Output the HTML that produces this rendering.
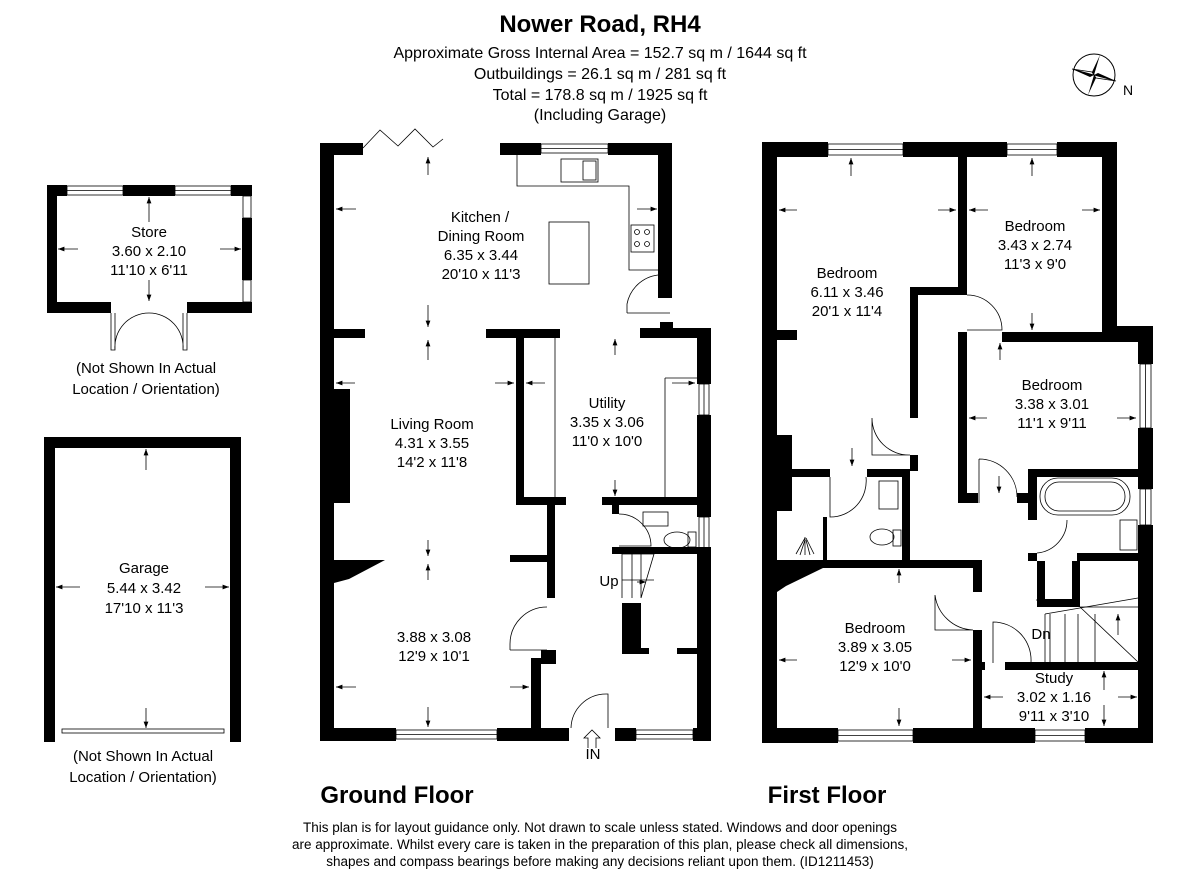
<!DOCTYPE html>
<html><head><meta charset="utf-8"><style>
html,body{margin:0;padding:0;background:#fff;}
svg{display:block;font-family:"Liberation Sans",Arial,sans-serif;}
</style></head><body>
<svg width="1200" height="881" viewBox="0 0 1200 881" xmlns="http://www.w3.org/2000/svg">
<defs>
<marker id="ah" markerWidth="8" markerHeight="6" refX="8" refY="3" orient="auto"><path d="M0,0 L8,3 L0,6 z" fill="#000"/></marker>
</defs>
<!-- Header -->
<g text-anchor="middle" fill="#000">
<text x="600" y="32" font-size="24" font-weight="bold">Nower Road, RH4</text>
<text x="600" y="58" font-size="16">Approximate Gross Internal Area = 152.7 sq m / 1644 sq ft</text>
<text x="600" y="79" font-size="16">Outbuildings = 26.1 sq m / 281 sq ft</text>
<text x="600" y="100" font-size="16">Total = 178.8 sq m / 1925 sq ft</text>
<text x="600" y="120" font-size="16">(Including Garage)</text>
</g>
<!-- Compass -->
<g transform="translate(1094,75)">
<circle r="21" fill="none" stroke="#000" stroke-width="1"/>
<path d="M0,0 L22,6 L4,-2 z" fill="#000"/>
<path d="M0,0 L-22,-6 L-4,2 z" fill="#000"/>
<path d="M0,0 L-6,20 L2,3 z" fill="#000"/>
<path d="M0,0 L6,-20 L-2,-3 z" fill="#000"/>
<path d="M0,0 L22,6 L2,3 z" fill="#fff" stroke="#000" stroke-width="0.8"/>
<path d="M0,0 L-22,-6 L-2,-3 z" fill="#fff" stroke="#000" stroke-width="0.8"/>
<text x="29" y="20" font-size="14">N</text>
</g>

<!-- STORE -->
<g fill="#000">
<rect x="47" y="185" width="10" height="128"/>
<rect x="47" y="185" width="20" height="11"/>
<rect x="123" y="185" width="52" height="11"/>
<rect x="231" y="185" width="21" height="11"/>
<rect x="242" y="218" width="10" height="62"/>
<rect x="47" y="302" width="64" height="11"/>
<rect x="187" y="302" width="65" height="11"/>
</g>
<g fill="none" stroke="#000" stroke-width="0.8">
<rect x="67" y="186" width="56" height="9"/><line x1="67" y1="190.5" x2="123" y2="190.5"/>
<rect x="175" y="186" width="56" height="9"/><line x1="175" y1="190.5" x2="231" y2="190.5"/>
<rect x="243" y="196" width="8" height="22"/><rect x="243" y="280" width="8" height="22"/>
<path d="M111,313 L111,350 L115,350 L115,313 M115,350 A34,34 0 0 1 149,313"/>
<path d="M187,313 L187,350 L183,350 L183,313 M183,350 A34,34 0 0 0 149,313"/>
</g>
<g stroke="#000" stroke-width="0.8" marker-end="url(#ah)">
<line x1="78" y1="249" x2="58" y2="249"/><line x1="220" y1="249" x2="241" y2="249"/>
<line x1="149" y1="222" x2="149" y2="197"/><line x1="149" y1="280" x2="149" y2="301"/>
</g>
<g text-anchor="middle" font-size="15">
<text x="149" y="237">Store</text><text x="149" y="256">3.60 x 2.10</text><text x="149" y="275">11'10 x 6'11</text>
<text x="146" y="373">(Not Shown In Actual</text><text x="146" y="394">Location / Orientation)</text>
</g>

<!-- GARAGE -->
<g fill="#000">
<rect x="44" y="437" width="197" height="11"/>
<rect x="44" y="437" width="11" height="305"/>
<rect x="230" y="437" width="11" height="305"/>
</g>
<g fill="none" stroke="#000" stroke-width="0.8"><rect x="62" y="729" width="162" height="4"/></g>
<g stroke="#000" stroke-width="0.8" marker-end="url(#ah)">
<line x1="80" y1="587" x2="56" y2="587"/><line x1="205" y1="587" x2="229" y2="587"/>
<line x1="146" y1="470" x2="146" y2="449"/><line x1="146" y1="708" x2="146" y2="728"/>
</g>
<g text-anchor="middle" font-size="15">
<text x="144" y="573">Garage</text><text x="144" y="593">5.44 x 3.42</text><text x="144" y="613">17'10 x 11'3</text>
<text x="143" y="761">(Not Shown In Actual</text><text x="143" y="782">Location / Orientation)</text>
</g>

<!-- GROUND FLOOR walls -->
<g fill="#000">
<rect x="320" y="143" width="14" height="598"/>
<rect x="320" y="143" width="43" height="12"/>
<rect x="500" y="143" width="41" height="12"/>
<rect x="608" y="143" width="64" height="12"/>
<rect x="658" y="143" width="14" height="155"/>
<rect x="660" y="322" width="13" height="15"/>
<rect x="640" y="328" width="71" height="10"/>
<rect x="697" y="328" width="14" height="56"/>
<rect x="697" y="415" width="14" height="102"/>
<rect x="697" y="548" width="14" height="193"/>
<rect x="320" y="728" width="76" height="13"/>
<rect x="497" y="728" width="72" height="13"/>
<rect x="615" y="728" width="21" height="13"/>
<rect x="693" y="728" width="18" height="13"/>
<rect x="334" y="329" width="31" height="9"/>
<rect x="486" y="329" width="74" height="9"/>
<rect x="516" y="338" width="8" height="167"/>
<rect x="516" y="497" width="50" height="8"/>
<rect x="602" y="497" width="109" height="8"/>
<rect x="612" y="505" width="7" height="9"/>
<rect x="612" y="547" width="99" height="7"/>
<rect x="547" y="505" width="8" height="93"/>
<rect x="510" y="555" width="45" height="7"/>
<rect x="541" y="650" width="15" height="14"/>
<rect x="531" y="658" width="10" height="83"/>
<rect x="334" y="389" width="16" height="114"/>
<path d="M320,560 L385,560 L349,579 L334,583 L334,610 L320,610 z"/>
<rect x="622" y="603" width="19" height="51"/>
<rect x="622" y="648" width="27" height="6"/>
<rect x="677" y="648" width="20" height="6"/>
</g>
<g fill="none" stroke="#000" stroke-width="0.8">
<!-- bifold -->
<path d="M363,148 L380,130 L398,146 L415,129 L433,147 L443,139"/>
<!-- windows -->
<rect x="541" y="144" width="67" height="9"/><line x1="541" y1="148.5" x2="608" y2="148.5"/>
<rect x="396" y="730" width="101" height="9"/><line x1="396" y1="734.5" x2="497" y2="734.5"/>
<rect x="636" y="730" width="57" height="9"/><line x1="636" y1="734.5" x2="693" y2="734.5"/>
<rect x="699" y="384" width="10" height="31"/><line x1="704" y1="384" x2="704" y2="415"/>
<rect x="699" y="517" width="10" height="31"/><line x1="704" y1="517" x2="704" y2="548"/>
<!-- kitchen worktops -->
<path d="M517,155 L517,186 L629,186 L629,270 L658,270"/>
<rect x="561" y="159" width="37" height="23"/><rect x="583" y="161" width="13" height="19"/>
<rect x="631" y="225" width="23" height="27"/>
<circle cx="637" cy="232" r="2.5"/><circle cx="647" cy="232" r="2.5"/><circle cx="637" cy="244" r="2.5"/><circle cx="647" cy="244" r="2.5"/>
<rect x="549" y="222" width="40" height="62"/>
<!-- kitchen door -->
<path d="M627,313 L627,304 A36,36 0 0 1 658,275 M627,313 L670,313"/>
<!-- corridor line -->
<line x1="555" y1="338" x2="555" y2="497"/>
<path d="M665,378 L697,378 M665,378 L665,497"/>
<!-- WC -->
<path d="M619,514 A32,32 0 0 1 651,546 L619,546"/>
<rect x="643" y="512" width="25" height="14"/>
<ellipse cx="677" cy="540" rx="13" ry="8"/><rect x="688" y="532" width="8" height="15"/>
<!-- stairs -->
<path d="M622,554 L622,598 M622,554 L654,554 L641,598 M632,554 L632,598 M641,554 L641,598"/>
<line x1="622" y1="580" x2="654" y2="580"/>
<!-- living door -->
<path d="M510,650 L510,644 A37,37 0 0 1 547,607 M510,650 L547,650"/>
<!-- entrance door -->
<path d="M571,728 A35,35 0 0 1 606,694 L608,694 L608,728"/>
<path d="M588,748 L588,738 L584,738 L592,730 L600,738 L596,738 L596,748"/>
</g>
<g stroke="#000" stroke-width="0.8" marker-end="url(#ah)">
<line x1="428" y1="175" x2="428" y2="157"/>
<line x1="356" y1="209" x2="336" y2="209"/>
<line x1="637" y1="209" x2="657" y2="209"/>
<line x1="428" y1="305" x2="428" y2="327"/>
<line x1="428" y1="360" x2="428" y2="340"/>
<line x1="355" y1="383" x2="336" y2="383"/>
<line x1="495" y1="383" x2="514" y2="383"/>
<line x1="545" y1="383" x2="526" y2="383"/>
<line x1="672" y1="383" x2="695" y2="383"/>
<line x1="615" y1="355" x2="615" y2="339"/>
<line x1="615" y1="480" x2="615" y2="496"/>
<line x1="428" y1="540" x2="428" y2="556"/>
<line x1="428" y1="580" x2="428" y2="564"/>
<line x1="356" y1="687" x2="336" y2="687"/>
<line x1="510" y1="687" x2="529" y2="687"/>
<line x1="428" y1="707" x2="428" y2="727"/>
<line x1="637" y1="582" x2="646" y2="582"/>
</g>
<g text-anchor="middle" font-size="15">
<text x="480" y="222">Kitchen /</text><text x="481" y="241">Dining Room</text><text x="481" y="260">6.35 x 3.44</text><text x="481" y="279">20'10 x 11'3</text>
<text x="432" y="429">Living Room</text><text x="432" y="448">4.31 x 3.55</text><text x="432" y="467">14'2 x 11'8</text>
<text x="607" y="408">Utility</text><text x="607" y="427">3.35 x 3.06</text><text x="607" y="446">11'0 x 10'0</text>
<text x="434" y="642">3.88 x 3.08</text><text x="434" y="661">12'9 x 10'1</text>
<text x="609" y="586">Up</text>
<text x="593" y="759">IN</text>
<text x="397" y="803" font-size="24" font-weight="bold">Ground Floor</text>
</g>

<!-- FIRST FLOOR walls -->
<g fill="#000">
<rect x="762" y="142" width="15" height="601"/>
<rect x="762" y="142" width="66" height="15"/>
<rect x="903" y="142" width="104" height="15"/>
<rect x="1057" y="142" width="60" height="15"/>
<rect x="1102" y="142" width="15" height="198"/>
<rect x="1102" y="326" width="51" height="14"/>
<rect x="1138" y="326" width="15" height="38"/>
<rect x="1138" y="428" width="15" height="61"/>
<rect x="1138" y="525" width="15" height="218"/>
<rect x="762" y="728" width="76" height="15"/>
<rect x="913" y="728" width="122" height="15"/>
<rect x="1085" y="728" width="68" height="15"/>
<rect x="958" y="157" width="9" height="138"/>
<rect x="910" y="287" width="57" height="8"/>
<rect x="910" y="287" width="8" height="131"/>
<rect x="910" y="455" width="8" height="16"/>
<rect x="777" y="330" width="20" height="10"/>
<rect x="958" y="332" width="9" height="10"/>
<rect x="1002" y="332" width="140" height="10"/>
<rect x="958" y="332" width="9" height="171"/>
<rect x="958" y="493" width="20" height="10"/>
<rect x="1017" y="493" width="20" height="10"/>
<rect x="1028" y="469" width="110" height="8"/>
<rect x="1028" y="469" width="9" height="51"/>
<rect x="1028" y="553" width="9" height="8"/>
<rect x="1077" y="553" width="61" height="8"/>
<rect x="777" y="435" width="15" height="76"/>
<rect x="777" y="469" width="53" height="8"/>
<rect x="867" y="469" width="43" height="8"/>
<rect x="902" y="469" width="8" height="91"/>
<rect x="823" y="517" width="4" height="43"/>
<rect x="762" y="560" width="218" height="8"/>
<rect x="973" y="560" width="9" height="32"/>
<path d="M762,568 L823,568 L786,586 L777,592 L777,600 L762,600 z"/>
<rect x="973" y="630" width="9" height="113"/>
<rect x="973" y="662" width="12" height="8"/>
<rect x="1005" y="662" width="135" height="8"/>
<rect x="1037" y="561" width="8" height="46"/>
<rect x="1037" y="599" width="43" height="8"/>
<rect x="1072" y="561" width="8" height="46"/>
</g>
<g fill="none" stroke="#000" stroke-width="0.8">
<rect x="828" y="144" width="75" height="11"/><line x1="828" y1="149.5" x2="903" y2="149.5"/>
<rect x="1007" y="144" width="50" height="11"/><line x1="1007" y1="149.5" x2="1057" y2="149.5"/>
<rect x="838" y="730" width="75" height="11"/><line x1="838" y1="735.5" x2="913" y2="735.5"/>
<rect x="1035" y="730" width="50" height="11"/><line x1="1035" y1="735.5" x2="1085" y2="735.5"/>
<rect x="1140" y="364" width="11" height="64"/><line x1="1145.5" y1="364" x2="1145.5" y2="428"/>
<rect x="1140" y="489" width="11" height="36"/><line x1="1145.5" y1="489" x2="1145.5" y2="525"/>
<!-- doors -->
<path d="M967,295 A35,35 0 0 1 1002,330 L967,330"/>
<path d="M872,418 A37,37 0 0 0 910,455 L872,455 z" stroke-width="0.8"/>
<path d="M830,477 L830,517 A36,36 0 0 0 866,477"/>
<path d="M979,459 L979,503 M979,459 A38,38 0 0 1 1017,497"/>
<path d="M1037,553 A33,33 0 0 0 1067,520"/>
<path d="M935,595 A40,40 0 0 0 973,630 L935,630 z"/>
<path d="M993,663 L993,622 A38,38 0 0 1 1031,662"/>
<!-- ensuite -->
<rect x="879" y="481" width="19" height="28"/>
<ellipse cx="882" cy="537" rx="12" ry="8"/><rect x="893" y="530" width="8" height="16"/>
<path d="M796,554 L805,538 M800,555 L805,540 M805,555 L805,537 M810,555 L806,540 M814,554 L806,538"/>
<!-- bath -->
<rect x="1040" y="478" width="90" height="37" rx="18"/>
<rect x="1045" y="482" width="80" height="29" rx="14"/>
<rect x="1120" y="520" width="17" height="30"/>
<!-- stairs -->
<path d="M1080,607 L1138,607 M1080,607 L1138,662 M1050,614 L1050,662 M1065,614 L1065,662 M1078,614 L1078,662 M1095,614 L1095,662"/>
<line x1="1045" y1="614" x2="1138" y2="598"/>
<line x1="1045" y1="614" x2="1045" y2="662"/>
<line x1="1036" y1="600" x2="1080" y2="600"/>
</g>
<g stroke="#000" stroke-width="0.8" marker-end="url(#ah)">
<line x1="851" y1="176" x2="851" y2="158"/>
<line x1="1032" y1="176" x2="1032" y2="158"/>
<line x1="797" y1="210" x2="779" y2="210"/>
<line x1="938" y1="210" x2="956" y2="210"/>
<line x1="988" y1="210" x2="969" y2="210"/>
<line x1="1082" y1="210" x2="1100" y2="210"/>
<line x1="1032" y1="313" x2="1032" y2="330"/>
<line x1="1000" y1="360" x2="1000" y2="343"/>
<line x1="987" y1="418" x2="969" y2="418"/>
<line x1="1117" y1="418" x2="1136" y2="418"/>
<line x1="852" y1="448" x2="852" y2="466"/>
<line x1="999" y1="476" x2="999" y2="493"/>
<line x1="899" y1="583" x2="899" y2="569"/>
<line x1="797" y1="660" x2="779" y2="660"/>
<line x1="952" y1="660" x2="971" y2="660"/>
<line x1="899" y1="708" x2="899" y2="726"/>
<line x1="1118" y1="635" x2="1118" y2="614"/>
<line x1="1003" y1="697" x2="984" y2="697"/>
<line x1="1118" y1="697" x2="1137" y2="697"/>
<line x1="1104" y1="690" x2="1104" y2="671"/>
<line x1="1104" y1="705" x2="1104" y2="726"/>
</g>
<g text-anchor="middle" font-size="15">
<text x="847" y="278">Bedroom</text><text x="847" y="297">6.11 x 3.46</text><text x="847" y="316">20'1 x 11'4</text>
<text x="1035" y="231">Bedroom</text><text x="1035" y="250">3.43 x 2.74</text><text x="1035" y="269">11'3 x 9'0</text>
<text x="1052" y="390">Bedroom</text><text x="1052" y="409">3.38 x 3.01</text><text x="1052" y="428">11'1 x 9'11</text>
<text x="875" y="633">Bedroom</text><text x="875" y="652">3.89 x 3.05</text><text x="875" y="671">12'9 x 10'0</text>
<text x="1054" y="683">Study</text><text x="1054" y="702">3.02 x 1.16</text><text x="1054" y="721">9'11 x 3'10</text>
<text x="1041" y="639">Dn</text>
<text x="827" y="803" font-size="24" font-weight="bold">First Floor</text>
</g>

<!-- footer -->
<g text-anchor="middle" font-size="13.5">
<text x="600" y="832">This plan is for layout guidance only. Not drawn to scale unless stated. Windows and door openings</text>
<text x="600" y="849">are approximate. Whilst every care is taken in the preparation of this plan, please check all dimensions,</text>
<text x="600" y="866">shapes and compass bearings before making any decisions reliant upon them. (ID1211453)</text>
</g>
</svg>
</body></html>
